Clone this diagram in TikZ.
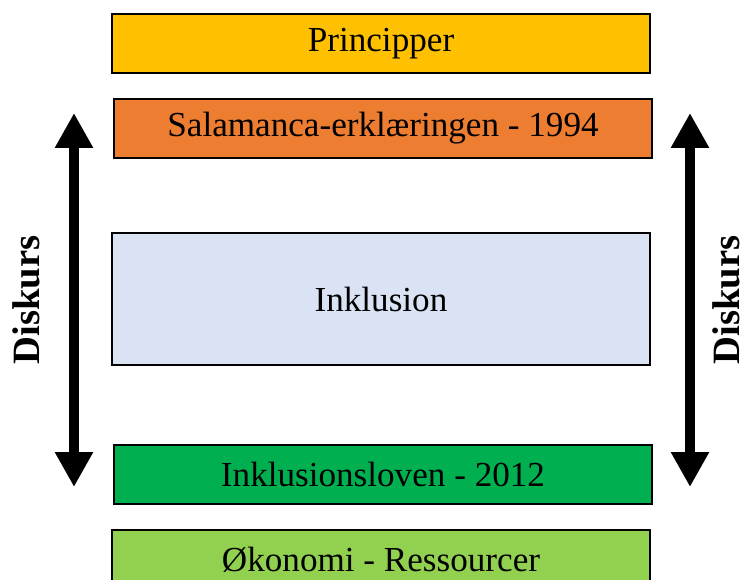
\documentclass[tikz,border=0pt]{standalone}
\usepackage{fontspec}
\setmainfont{Liberation Serif}
\usetikzlibrary{arrows.meta}

\begin{document}
\begin{tikzpicture}[x=0.02cm,y=-0.02cm,
    level/.style={draw=black,line width=1.2pt,minimum width=10.76cm,anchor=north west,inner sep=0pt,font=\fontsize{20}{24}\selectfont},
    diskurs/.style={rotate=90,inner sep=0pt,font=\fontsize{22}{26}\selectfont\bfseries},
    pil/.style={line width=0.2cm,{Triangle[width=0.72cm,length=0.7cm]}-{Triangle[width=0.72cm,length=0.7cm]}}]
    \definecolor{ms_gold}{HTML}{FFC000}
    \definecolor{ms_orange}{HTML}{ED7D31}
    \definecolor{ms_lightblue}{HTML}{DAE3F3}
    \definecolor{ms_green}{HTML}{00B050}
    \definecolor{ms_lightgreen}{HTML}{92D050}
    % \draw[help lines] (0,0) grid (745,580);
    \useasboundingbox (0,0) rectangle (745,580);

    \node[level,fill=ms_gold,minimum height=1.18cm] (principper) at (111,13) {Principper};
    \node[level,fill=ms_orange,minimum height=1.18cm] (salamanca) at (113,98) {Salamanca-erklæringen - 1994};
    \node[level,fill=ms_lightblue,minimum height=2.64cm] (inklusion) at (111,232) {Inklusion};
    \node[level,fill=ms_green,minimum height=1.18cm] (loven) at (113,444) {Inklusionsloven - 2012};
    \node[level,fill=ms_lightgreen,minimum height=1.18cm] (okonomi) at (111,529) {Økonomi - Ressourcer};

    \coordinate (venstreTop) at (74,113);
    \coordinate (venstreBund) at (74,487);
    \coordinate (hoejreTop) at (690,113);
    \coordinate (hoejreBund) at (690,487);
    \draw[pil] (venstreTop) -- (venstreBund);
    \draw[pil] (hoejreTop) -- (hoejreBund);

    \node[diskurs] (diskursV) at (26,300) {Diskurs};
    \node[diskurs] (diskursH) at (726,300) {Diskurs};
\end{tikzpicture}
\end{document}
